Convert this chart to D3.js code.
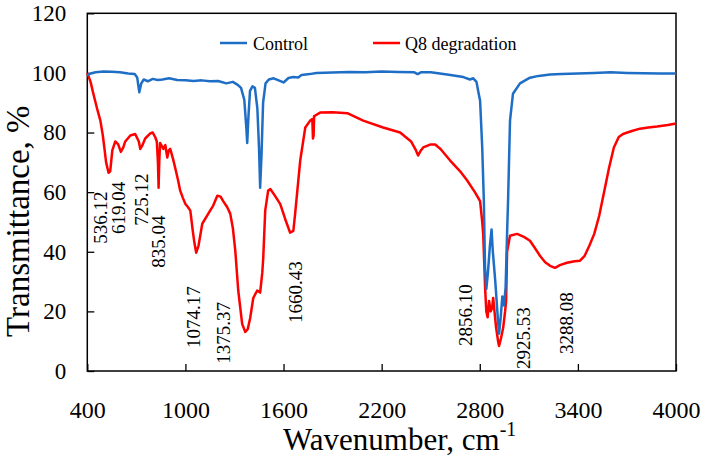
<!DOCTYPE html>
<html>
<head>
<meta charset="utf-8">
<script src="https://cdn.jsdelivr.net/npm/d3@7"></script>
<style>
  body { margin: 0; background: #fff; }
  svg { display: block; }
  text { font-family: "Liberation Serif", "Times New Roman", serif; fill: #000; }
</style>
</head>
<body>
<svg id="chart" width="705" height="461"></svg>
<script>
// ---- data ----
const seriesNames = ["Control", "Q8 degradation"];
const seriesColors = ["#1f6ec6", "#ff0000"];

const controlWave = [400,420,450,500,550,600,650,690,705,718,730,745,770,800,830,860,900,950,1000,1050,1100,1150,1200,1250,1290,1320,1340,1360,1372,1378,1385,1395,1410,1425,1440,1450,1457,1465,1475,1490,1510,1540,1570,1600,1630,1660,1690,1710,1760,1800,1900,2000,2100,2200,2300,2400,2420,2440,2500,2600,2700,2740,2760,2780,2790,2802,2815,2825,2832,2840,2850,2862,2872,2880,2895,2910,2918,2928,2938,2948,2958,2968,2973,2985,3003,3046,3107,3160,3230,3300,3400,3500,3600,3700,3800,3900,4000];
const controlT =    [99.3,99.8,100.2,100.5,100.4,100.2,99.8,99.6,98.5,93.5,96.5,97.8,97.2,98,97.6,97.8,98.2,97.6,97.5,97.3,97.5,97.2,97.3,96.5,97,96,95,91,82,76.5,85,94,95.5,95,88,75,61.5,72,90,96.5,97.8,98.2,97.5,96.8,98.3,98.6,98.5,99.3,99.6,100,100.1,100.3,100.2,100.5,100.3,100.2,99.6,100.2,100.2,99.5,98.6,97.8,98.2,97,94,90.7,75,57,35,27.5,33,42,47.5,40,30,18,12.5,18,25,22,28,48,57,84,93,96.5,98.4,99,99.5,99.6,99.8,100,100.2,100,99.9,99.8,99.8];

const q8Wave = [400,420,437,460,480,495,504,515,530,540,553,571,589,605,620,632,663,693,715,724,735,754,785,800,815,825,832,836,840,845,865,877,889,898,907,925,938,955,968,985,1000,1015,1030,1045,1055,1066,1080,1103,1140,1170,1195,1215,1231,1255,1274,1290,1305,1323,1347,1366,1381,1396,1415,1439,1457,1470,1476,1488,1506,1520,1545,1580,1610,1640,1660,1671,1702,1733,1763,1776,1780,1784,1787,1794,1824,1900,1990,2087,2209,2313,2380,2410,2423,2440,2454,2500,2527,2560,2619,2680,2722,2770,2802,2815,2821,2833,2840,2848,2857,2866,2875,2882,2890,2900,2912,2918,2930,2943,2955,2961,2967,2985,3028,3070,3107,3140,3169,3200,3230,3260,3290,3333,3380,3413,3440,3470,3500,3530,3560,3590,3620,3650,3676,3730,3780,3830,3884,3950,4000];
const q8T =    [100,97,93,88,84,79,75,70,66.5,67,74,77,76,73.5,75,77,79,79.5,77,74.5,75.5,78,79.7,80,78.5,77,70,61.5,70,76.5,74.5,75.8,71.6,74,74.5,71,68,64,60.5,58,56,55,53.8,47,43,39.7,42,49.4,52.8,55.5,58.8,58.5,57,55,52.8,48,40.3,27,15.8,13.1,14,17.8,24.5,27,26.3,33,38,53.8,60.5,61,59,56,51,46.4,47,52.8,70.6,81.7,84,84.5,78,79,85.5,85.7,86.7,86.8,86.5,84,81.7,80,77,74,72.3,74,75,76,76,74.5,70.6,67,64,60,57,50,46,27.5,20,18,23.5,20,21,24.5,20,14.5,10,8.4,11,14.5,20,23.5,40,45.4,46,45,43.7,41,38.6,36.5,35.3,34.6,35.5,36.3,36.8,37,38.5,42,46,52,60,68,75,78.5,79.5,80.5,81.3,81.7,82,82.5,83];

const xTicks = [400,1000,1600,2200,2800,3400,4000];
const yTicks = [0,20,40,60,80,100,120];

const peakLabels = ["536.12","619.04","725.12","835.04","1074.17","1375.37","1660.43","2856.10","2925.53","3288.08"];
const peakLabelWave = [522,632,773,877,1091,1274,1714,2753,3108,3370];
const peakLabelT =    [42.7,46,48.7,34.6,7.7,2.4,16.1,8.4,0.7,5.7];

// ---- chart ----
const svg = d3.select("#chart");
const L = 87.3, R = 676, T = 13.3, B = 371;
const x = d3.scaleLinear().domain([400,4000]).range([L,R]);
const y = d3.scaleLinear().domain([0,120]).range([B,T]);

// y axis
const yAxis = svg.append("g").attr("transform", `translate(${L},0)`)
  .call(d3.axisLeft(y).tickValues(yTicks).tickSizeInner(-7).tickSizeOuter(0).tickPadding(21));
yAxis.select(".domain").remove();
yAxis.selectAll("line").attr("stroke","#000").attr("stroke-width",1.3);
yAxis.selectAll("text").attr("font-size",23).attr("font-family","Liberation Serif");

// x axis
const xAxis = svg.append("g").attr("transform", `translate(0,${B})`)
  .call(d3.axisBottom(x).tickValues(xTicks).tickSizeInner(-7).tickSizeOuter(0).tickPadding(30).tickFormat(d3.format("d")));
xAxis.select(".domain").remove();
xAxis.selectAll("line").attr("stroke","#000").attr("stroke-width",1.3);
xAxis.selectAll("text").attr("font-size",24).attr("font-family","Liberation Serif");

// frame
svg.append("rect").attr("x",L).attr("y",T).attr("width",R-L).attr("height",B-T)
  .attr("fill","none").attr("stroke","#000").attr("stroke-width",1.5);

// lines
const line = d3.line().x(d => x(d[0])).y(d => y(d[1]));
const q8Data = q8Wave.map((w,i) => [w, q8T[i]]);
const controlData = controlWave.map((w,i) => [w, controlT[i]]);
svg.append("path").datum(q8Data).attr("d", line).attr("fill","none")
  .attr("stroke", seriesColors[1]).attr("stroke-width",2.5).attr("stroke-linejoin","round");
svg.append("path").datum(controlData).attr("d", line).attr("fill","none")
  .attr("stroke", seriesColors[0]).attr("stroke-width",2.5).attr("stroke-linejoin","round");

// peak labels
peakLabels.forEach((t,i) => {
  const px = x(peakLabelWave[i]), py = y(peakLabelT[i]);
  svg.append("text").attr("transform", `translate(${px},${py}) rotate(-90)`)
    .attr("font-size",19).text(t);
});

// legend
const legX = [220, 373];
const legTextX = [253, 405];
seriesNames.forEach((n,i) => {
  svg.append("line").attr("x1",legX[i]).attr("x2",legX[i]+27).attr("y1",43).attr("y2",43)
    .attr("stroke",seriesColors[i]).attr("stroke-width",2.5);
  svg.append("text").attr("x",legTextX[i]).attr("y",49.5).attr("font-size",18).text(n);
});

// axis titles
const xt = svg.append("text").attr("x",283).attr("y",450).attr("font-size",31);
xt.append("tspan").text("Wavenumber, cm");
xt.append("tspan").attr("dy",-14).attr("font-size",20).text("-1");

svg.append("text").attr("transform","translate(29,337) rotate(-90)")
  .attr("font-size",33).text("Transmittance, %");
</script>
</body>
</html>
